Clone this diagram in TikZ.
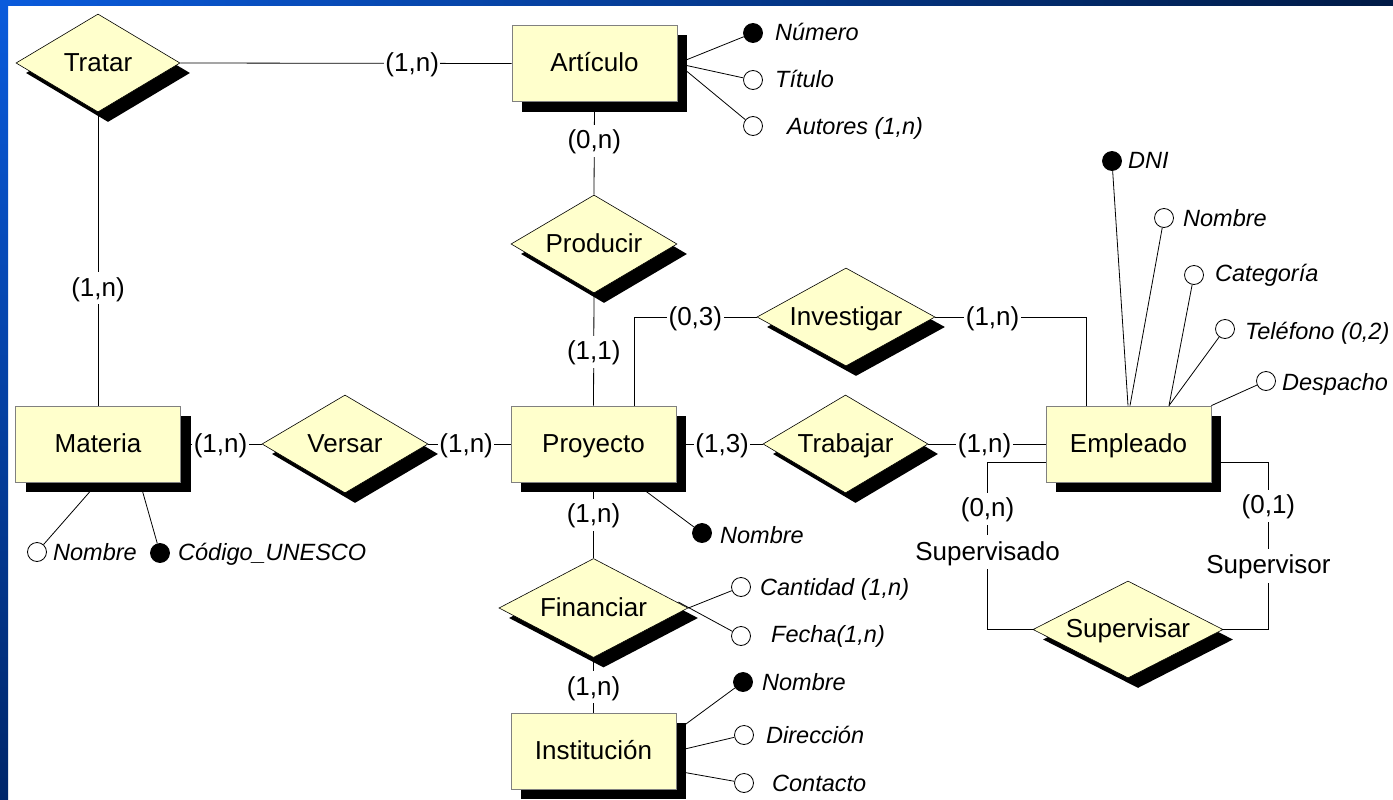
\documentclass[tikz,border=0pt]{standalone}
\usepackage{fontspec}
\setmainfont{Liberation Sans}
\usetikzlibrary{shapes.geometric,shadows,calc}
\pgfdeclarelayer{back}
\pgfdeclarelayer{edges}
\pgfsetlayers{back,edges,main}
\definecolor{erfill}{HTML}{FFFFCC}
\definecolor{bandA}{HTML}{0A5BDC}
\definecolor{bandB}{HTML}{001A45}
\definecolor{bandC}{HTML}{00266A}
\tikzset{
 shad/.style={drop shadow={shadow xshift=10pt,shadow yshift=-10pt,opacity=1,fill=black}},
 bigfont/.style={font=\fontsize{26}{30}\selectfont,text height=21pt,text depth=5pt},
 ent/.style={rectangle,draw=black!50,line width=0.8pt,fill=erfill,minimum width=165pt,minimum height=76pt,inner sep=0pt,shad,bigfont},
 rel/.style={diamond,draw=black,line width=0.6pt,fill=erfill,inner sep=0pt,shad,minimum height=98pt,
   label={[bigfont,inner sep=0pt]center:#1}},
 card/.style={fill=white,inner xsep=1.5pt,inner ysep=3pt,bigfont},
 role/.style={fill=white,inner xsep=1pt,inner ysep=4pt,bigfont},
 att/.style={circle,draw=black,line width=0.8pt,fill=white,minimum size=19pt,inner sep=0pt},
 key/.style={att,fill=black},
 atxt/.style={anchor=west,inner sep=0pt,font=\fontsize{23.5}{28}\selectfont\itshape,text height=19pt,text depth=3pt},
 conn/.style={draw=black,line width=0.8pt},
}
\begin{document}
\begin{tikzpicture}[x=1pt,y=-1pt]
\useasboundingbox (0,0) rectangle (1393,800);
\begin{pgfonlayer}{back}
\fill[white] (0,0) rectangle (1393,800);
\shade[top color=bandA,bottom color=bandC] (0,0) rectangle (8,800);
\shade[left color=bandA,right color=bandB] (0,0) rectangle (1393,6);
\end{pgfonlayer}

% entities
\node[ent] (art) at (594.5,63.5) {Artículo};
\node[ent] (mat) at (98,444) {Materia};
\node[ent] (pro) at (593.5,444) {Proyecto};
\node[ent] (ins) at (593.5,751) {Institución};
\node[ent] (emp) at (1128.5,444) {Empleado};

% relationships
\node[rel=Tratar,minimum width=164pt] (tra) at (98,63) {};
\node[rel=Producir,minimum width=166pt] (prod) at (594,244) {};
\node[rel=Investigar,minimum width=178pt] (inv) at (846,317) {};
\node[rel=Versar,minimum width=166pt] (ver) at (345,444) {};
\node[rel=Trabajar,minimum width=165pt] (trab) at (845.5,444) {};
\node[rel=Financiar,minimum width=189pt,minimum height=99pt] (fin) at (593.5,608) {};
\node[rel=Supervisar,minimum width=190pt,minimum height=97pt] (sup) at (1128,629.5) {};

% attribute circles
\node[key] (a1) at (753,33) {};
\node[att] (a2) at (753,80) {};
\node[att] (a3) at (753,126) {};
\node[key] (e1) at (1112,161) {};
\node[att] (e2) at (1164,218) {};
\node[att] (e3) at (1194,275) {};
\node[att] (e4) at (1225,329) {};
\node[att] (e5) at (1266,381) {};
\node[att] (m1) at (37,552) {};
\node[key] (m2) at (160,553) {};
\node[key] (p1) at (702,533) {};
\node[att] (f1) at (741,587) {};
\node[att] (f2) at (741,636) {};
\node[key] (i1) at (743,682) {};
\node[att] (i2) at (744,735) {};
\node[att] (i3) at (744,783) {};

% attribute texts
\node[atxt] (ta1) at (775,33) {Número};
\node[atxt] (ta2) at (775,80) {Título};
\node[atxt] (ta3) at (787,126) {Autores (1,n)};
\node[atxt] (te1) at (1128,160) {DNI};
\node[atxt] (te2) at (1183,218) {Nombre};
\node[atxt] (te3) at (1215,273) {Categoría};
\node[atxt] (te4) at (1245,331) {Teléfono (0,2)};
\node[atxt] (te5) at (1282,382) {Despacho};
\node[atxt] (tm1) at (53,552) {Nombre};
\node[atxt] (tm2) at (178,552) {Código\_UNESCO};
\node[atxt] (tp1) at (720,535) {Nombre};
\node[atxt] (tf1) at (760,587) {Cantidad (1,n)};
\node[atxt] (tf2) at (771,634) {Fecha(1,n)};
\node[atxt] (ti1) at (762,682) {Nombre};
\node[atxt] (ti2) at (766,735) {Dirección};
\node[atxt] (ti3) at (772,783) {Contacto};

\begin{pgfonlayer}{edges}
% relationship connectors
\draw[conn] (tra.east) -- node[card,pos=0.70]{(1,n)} (art.west);
\draw[conn] (tra.south) -- node[card,pos=0.60]{(1,n)} (mat.north);
\draw[conn] (art.south) -- node[card,pos=0.42]{(0,n)} (prod.north);
\draw[conn] (prod.south) -- node[card,pos=0.52]{(1,1)} (pro.north);
\draw[conn] ([xshift=40.5pt]pro.north) |- node[card,pos=0.75]{(0,3)} (inv.west);
\draw[conn] (inv.east) -| node[card,pos=0.19]{(1,n)} ([xshift=-42.5pt]emp.north);
\draw[conn] (mat.east) -- node[card,pos=0.49]{(1,n)} (ver.west);
\draw[conn] (ver.east) -- node[card,pos=0.46]{(1,n)} (pro.west);
\draw[conn] (pro.east) -- node[card,pos=0.53]{(1,3)} (trab.west);
\draw[conn] (trab.east) -- node[card,pos=0.48]{(1,n)} (emp.west);
\draw[conn] (pro.south) -- node[card,pos=0.43]{(1,n)} (fin.north);
\draw[conn] (fin.south) -- node[card,pos=0.54]{(1,n)} (ins.north);
\draw[conn] ([yshift=-18pt]emp.west) -- ++(-58,0) |- node[card,pos=0.14]{(0,n)} node[role,pos=0.27]{Supervisado} (sup.west);
\draw[conn] ([yshift=-18pt]emp.east) -- ++(57,0) |- node[card,pos=0.13]{(0,1)} node[role,pos=0.31]{Supervisor} (sup.east);
% attribute connectors
\draw[conn] (art.east) -- (a1);
\draw[conn] (art.east) -- (a2);
\draw[conn] (art.east) -- (a3);
\draw[conn] ([xshift=-0.5pt]emp.north) -- (e1);
\draw[conn] ([xshift=1.5pt]emp.north) -- (e2);
\draw[conn] ([xshift=40.5pt]emp.north) -- (e3);
\draw[conn] ([xshift=40.5pt]emp.north) -- (e4);
\draw[conn] (emp.north east) -- (e5);
\draw[conn] (mat.south) -- (m1);
\draw[conn] ([xshift=42pt]mat.south) -- (m2);
\draw[conn] ([xshift=40.5pt]pro.south) -- (p1);
\draw[conn] (fin.east) -- (f1);
\draw[conn] ([xshift=-10pt,yshift=6pt]fin.east) -- (f2);
\draw[conn] ([yshift=20pt]ins.east) -- (i1);
\draw[conn] (ins.east) -- (i2);
\draw[conn] ([yshift=-20pt]ins.east) -- (i3);
\end{pgfonlayer}
\end{tikzpicture}
\end{document}
